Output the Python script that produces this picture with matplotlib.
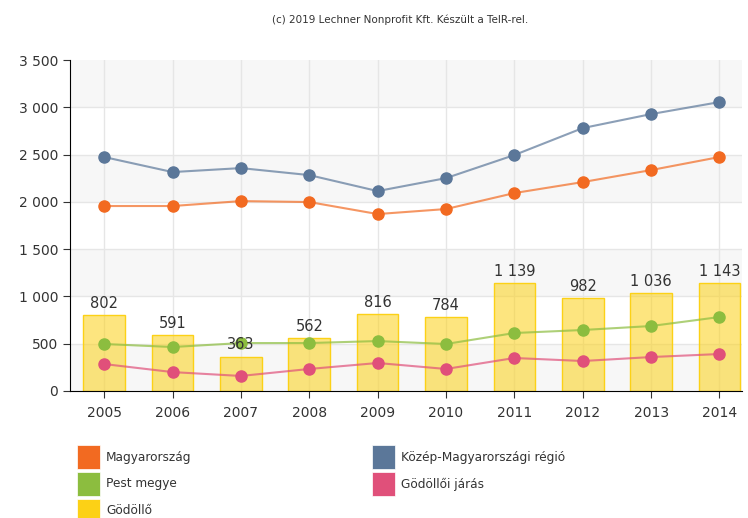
import matplotlib.pyplot as plt
from matplotlib.patches import Rectangle
from matplotlib.ticker import FuncFormatter

years = [2005, 2006, 2007, 2008, 2009, 2010, 2011, 2012, 2013, 2014]
godollo = [802, 591, 363, 562, 816, 784, 1139, 982, 1036, 1143]
kozep = [2474, 2315, 2357, 2283, 2114, 2251, 2495, 2780, 2928, 3055]
magyar = [1956, 1956, 2008, 1998, 1871, 1924, 2093, 2209, 2336, 2474]
pest = [497, 465, 507, 507, 528, 497, 613, 645, 687, 782]
jaras = [285, 200, 159, 233, 296, 233, 349, 317, 359, 391]

c_orange = "#f26a21"
c_blue = "#5b7799"
c_green = "#8cbd3f"
c_pink = "#e0507a"
c_yellow = "#fcd116"
txt = "#333333"

fig = plt.figure(figsize=(7.48, 5.18), dpi=100)
ax = fig.add_axes([70 / 748, 1 - 391 / 518, 672 / 748, 331 / 518])

# alternating bands
for lo in range(0, 3500, 1000):
    ax.axhspan(lo, lo + 500, color="#f7f7f7", zorder=0, lw=0)
for y in range(500, 3500, 500):
    ax.axhline(y, color="#e6e6e6", lw=1, zorder=0.5)
for x in years:
    ax.axvline(x, color="#e6e6e6", lw=1, zorder=0.5)

ax.bar(years, godollo, width=0.61, color=c_yellow, alpha=0.55, zorder=1)
ax.bar(years, godollo, width=0.61, facecolor="none", edgecolor=c_yellow, lw=1, zorder=1.1)
for x, v in zip(years, godollo):
    ax.text(x, v + 45, f"{v:,}".replace(",", " "), ha="center", va="bottom",
            fontsize=10.5, color=txt, zorder=5)

for vals, col in [(kozep, c_blue), (magyar, c_orange), (pest, c_green), (jaras, c_pink)]:
    ax.plot(years, vals, color=col, lw=1.5, alpha=0.7, zorder=3)
    ax.plot(years, vals, "o", color=col, ms=8, zorder=4)

ax.set_xlim(2004.5, 2014.33)
ax.set_ylim(0, 3500)
ax.set_yticks(range(0, 3501, 500))
ax.yaxis.set_major_formatter(FuncFormatter(lambda v, p: f"{int(v):,}".replace(",", " ")))
ax.set_xticks(years)
ax.tick_params(colors=txt, labelsize=10, length=5, direction="out")
ax.tick_params(axis="x", pad=6)
for s in ["top", "right"]:
    ax.spines[s].set_visible(False)
ax.spines["left"].set_color("#000000")
ax.spines["bottom"].set_color("#000000")

fig.text(400 / 748, 1 - 20 / 518, "(c) 2019 Lechner Nonprofit Kft. Készült a TeIR-rel.",
         ha="center", va="center", fontsize=7.5, color=txt)

legend = [
    ("Magyarország", c_orange, 77, 445),
    ("Pest megye", c_green, 77, 472),
    ("Gödöllő", c_yellow, 77, 499),
    ("Közép-Magyarországi régió", c_blue, 372, 445),
    ("Gödöllői járás", c_pink, 372, 472),
]
for label, col, px, py in legend:
    fig.add_artist(Rectangle((px / 748, 1 - (py + 24) / 518), 23 / 748, 24 / 518,
                             transform=fig.transFigure, facecolor=col, edgecolor="white", lw=0.5))
    fig.text((px + 29) / 748, 1 - (py + 12) / 518, label, ha="left", va="center",
             fontsize=8.7, color=txt)

fig.savefig("out.png", dpi=100)
